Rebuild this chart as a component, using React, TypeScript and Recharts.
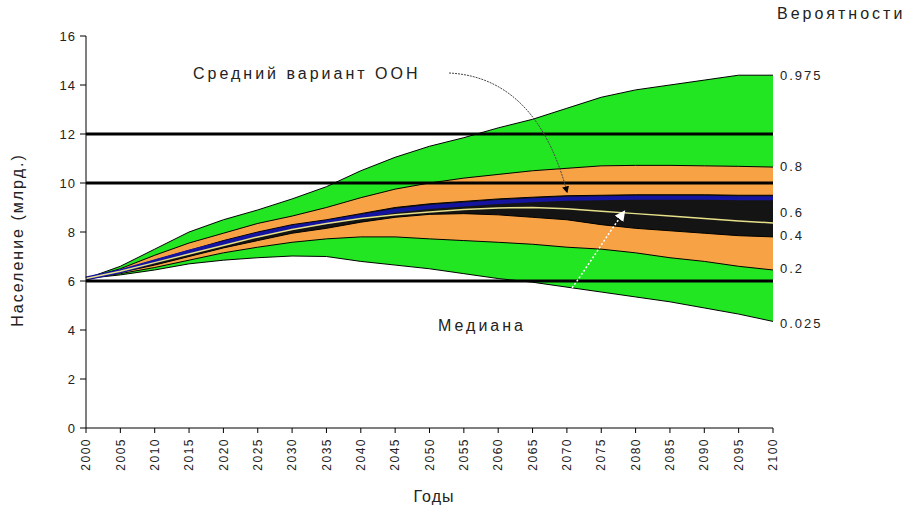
import React from 'react';
import {
    ComposedChart,
    Area,
    Line,
    XAxis,
    YAxis,
    ReferenceLine,
} from 'recharts';

// years 2000..2100, every 5 years
const YEARS = [2000, 2005, 2010, 2015, 2020, 2025, 2030, 2035, 2040, 2045, 2050,
    2055, 2060, 2065, 2070, 2075, 2080, 2085, 2090, 2095, 2100];

// population quantiles, billions
const Q975 = [6.1, 6.6, 7.3, 8.0, 8.5, 8.9, 9.35, 9.85, 10.5, 11.05, 11.5,
    11.85, 12.25, 12.6, 13.05, 13.5, 13.8, 14.0, 14.2, 14.4, 14.4];
const Q80 = [6.1, 6.5, 7.05, 7.55, 7.95, 8.35, 8.65, 9.0, 9.4, 9.75, 10.0,
    10.2, 10.35, 10.5, 10.6, 10.7, 10.72, 10.72, 10.7, 10.68, 10.65];
const Q60 = [6.1, 6.42, 6.85, 7.25, 7.65, 8.0, 8.3, 8.5, 8.75, 9.0, 9.15,
    9.25, 9.35, 9.42, 9.48, 9.5, 9.52, 9.52, 9.52, 9.5, 9.5];
const Q40 = [6.1, 6.35, 6.65, 7.0, 7.35, 7.65, 7.95, 8.15, 8.4, 8.6, 8.72,
    8.75, 8.7, 8.6, 8.5, 8.3, 8.15, 8.05, 7.95, 7.85, 7.8];
const Q20 = [6.1, 6.3, 6.55, 6.85, 7.15, 7.38, 7.58, 7.72, 7.8, 7.8, 7.72,
    7.65, 7.58, 7.5, 7.38, 7.3, 7.15, 6.95, 6.8, 6.6, 6.45];
const Q025 = [6.1, 6.25, 6.45, 6.7, 6.85, 6.95, 7.02, 7.0, 6.8, 6.65, 6.5,
    6.3, 6.1, 5.95, 5.75, 5.55, 5.35, 5.15, 4.9, 4.65, 4.35];
const MEDIAN = [6.1, 6.4, 6.75, 7.1, 7.45, 7.8, 8.1, 8.35, 8.55, 8.7, 8.82,
    8.92, 8.98, 9.0, 8.95, 8.85, 8.75, 8.65, 8.55, 8.45, 8.37];
// UN medium variant
const UN_MEDIUM = [6.1, 6.4, 6.8, 7.2, 7.55, 7.9, 8.2, 8.4, 8.63, 8.87, 9.02,
    9.12, 9.22, 9.3, 9.36, 9.38, 9.4, 9.4, 9.4, 9.38, 9.38];

const Y_TICKS = [0, 2, 4, 6, 8, 10, 12, 14, 16];
const H_LINES = [12, 10, 6];

const PROB_LABELS = [
    { text: '0.975', y: 75 },
    { text: '0.8', y: 166 },
    { text: '0.6', y: 212 },
    { text: '0.4', y: 235 },
    { text: '0.2', y: 268 },
    { text: '0.025', y: 323 },
];

const data = YEARS.map((year, i) => ({
    year,
    outer: [Q025[i], Q975[i]],
    mid: [Q20[i], Q80[i]],
    inner: [Q40[i], Q60[i]],
    median: MEDIAN[i],
    un: UN_MEDIUM[i],
}));

const FONT = '"Liberation Sans", Arial, sans-serif';

const YearTick = (props: any) => {
    const { x, y, payload } = props;
    return (
        <text
            x={x}
            y={y + 3}
            transform={`rotate(-90, ${x}, ${y + 3})`}
            textAnchor="end"
            dy="0.35em"
            fontSize={12}
            letterSpacing={1.5}
            fontFamily={FONT}
            fill="#222"
        >
            {payload.value}
        </text>
    );
};

const ValueTick = (props: any) => {
    const { x, y, payload } = props;
    return (
        <text x={x - 2} y={y} dy="0.35em" textAnchor="end" fontSize={13}
            letterSpacing={1} fontFamily={FONT} fill="#222">
            {payload.value}
        </text>
    );
};

export default function App() {
    return (
        <div style={{ position: 'relative', width: 914, height: 518, background: '#fff' }}>
            <style>{'body{margin:0}'}</style>
            <ComposedChart
                width={914}
                height={518}
                data={data}
                margin={{ top: 36, right: 141, bottom: 40, left: 40 }}
            >
                <XAxis
                    dataKey="year"
                    type="number"
                    domain={[2000, 2100]}
                    ticks={YEARS}
                    interval={0}
                    tick={<YearTick />}
                    tickSize={5}
                    height={50}
                    stroke="#000"
                />
                <XAxis xAxisId="top" orientation="top" dataKey="year" type="number"
                    domain={[2000, 2100]} tick={false} tickLine={false} height={0} stroke="#000" />
                <YAxis
                    domain={[0, 16]}
                    ticks={Y_TICKS}
                    interval={0}
                    width={46}
                    tickSize={6}
                    stroke="#000"
                    tick={<ValueTick />}
                />
                <YAxis yAxisId="right" orientation="right" domain={[0, 16]}
                    tick={false} tickLine={false} width={0} stroke="#000" />
                <Area dataKey="outer" type="linear" fill="#22e622" fillOpacity={1}
                    stroke="#000" strokeWidth={1} isAnimationActive={false} />
                <Area dataKey="mid" type="linear" fill="#f7a345" fillOpacity={1}
                    stroke="#000" strokeWidth={1} isAnimationActive={false} />
                <Area dataKey="inner" type="linear" fill="#141414" fillOpacity={1}
                    stroke="#000" strokeWidth={1} isAnimationActive={false} />
                <Line dataKey="un" type="linear" stroke="#1414a0" strokeWidth={4}
                    dot={false} isAnimationActive={false} />
                <Line dataKey="median" type="linear" stroke="#e6e08a" strokeWidth={1.5}
                    dot={false} isAnimationActive={false} />
                {H_LINES.map((v) => (
                    <ReferenceLine key={v} y={v} stroke="#000" strokeWidth={3} />
                ))}
            </ComposedChart>
            <svg
                width={914}
                height={518}
                style={{ position: 'absolute', left: 0, top: 0, pointerEvents: 'none' }}
                fontFamily={FONT}
            >
                <defs>
                    <marker id="arrBlack" viewBox="0 0 10 10" refX="8" refY="5"
                        markerWidth="7" markerHeight="7" orient="auto">
                        <path d="M0,0 L10,5 L0,10 z" fill="#000" />
                    </marker>
                    <marker id="arrWhite" viewBox="0 0 10 10" refX="8" refY="5"
                        markerWidth="7" markerHeight="7" orient="auto">
                        <path d="M0,0 L10,5 L0,10 z" fill="#fff" />
                    </marker>
                </defs>
                <text x={777} y={19} fontSize={16} letterSpacing={3} fill="#222">Вероятности</text>
                {PROB_LABELS.map((p) => (
                    <text key={p.text} x={780} y={p.y} dy="0.35em" fontSize={13}
                        letterSpacing={2} fill="#222">{p.text}</text>
                ))}
                <text x={434} y={502} textAnchor="middle" fontSize={16} letterSpacing={1} fill="#222">Годы</text>
                <text x={23} y={240} textAnchor="middle" fontSize={16} letterSpacing={2} fill="#222"
                    transform="rotate(-90, 23, 240)">Население (млрд.)</text>
                <text x={193} y={79} fontSize={16} letterSpacing={3} fill="#222">Средний вариант ООН</text>
                <text x={438} y={331} fontSize={16} letterSpacing={3} fill="#222">Медиана</text>
                <path d="M449,73 C510,76 548,120 567,192" fill="none" stroke="#444"
                    strokeWidth={1} strokeDasharray="2 1" markerEnd="url(#arrBlack)" />
                <path d="M555,310 C580,280 600,245 624,212" fill="none" stroke="#fff"
                    strokeWidth={1.5} strokeDasharray="2 2" markerEnd="url(#arrWhite)" />
            </svg>
        </div>
    );
}
